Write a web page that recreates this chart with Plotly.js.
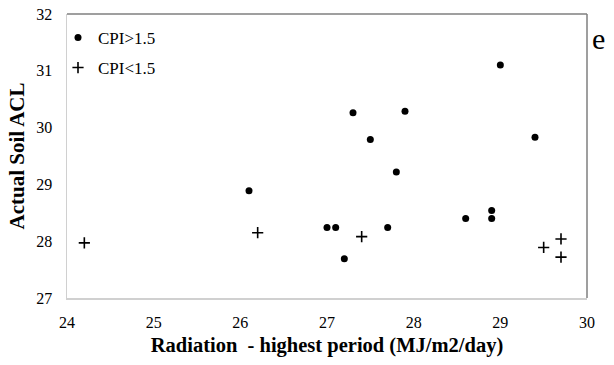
<!DOCTYPE html>
<html>
<head>
<meta charset="utf-8">
<script src="https://cdn.plot.ly/plotly-3.0.1.min.js"></script>
<style>html,body{margin:0;padding:0;background:#fff;}#chart{width:614px;height:365px;}</style>
</head>
<body>
<div id="chart"></div>
<script>
// CPI > 1.5 (filled circles)
const highX = [26.1, 27.0, 27.1, 27.2, 27.3, 27.5, 27.7, 27.8, 27.9, 28.6, 28.9, 28.9, 29.0, 29.4];
const highY = [28.89, 28.24, 28.24, 27.69, 30.26, 29.79, 28.24, 29.22, 30.29, 28.40, 28.54, 28.40, 31.10, 29.83];
// CPI < 1.5 (plus signs)
const lowX = [24.2, 26.2, 27.4, 29.5, 29.7, 29.7];
const lowY = [27.97, 28.15, 28.08, 27.89, 28.04, 27.72];

const xTicks = [24, 25, 26, 27, 28, 29, 30];
const yTicks = [27, 28, 29, 30, 31, 32];

const FONT = 'Liberation Serif, Times New Roman, serif';

const traces = [
  {
    x: highX, y: highY, mode: 'markers', type: 'scatter', name: 'CPI>1.5',
    marker: {symbol: 'circle', size: 7, color: '#000'},
    legend: 'legend'
  },
  {
    x: lowX, y: lowY, mode: 'markers', type: 'scatter', name: 'CPI<1.5',
    marker: {symbol: 'cross-thin', size: 8, color: '#000', line: {width: 1.6, color: '#000'}},
    legend: 'legend2'
  }
];

const legendCommon = {
  xref: 'paper', yref: 'paper', xanchor: 'left', yanchor: 'middle',
  bgcolor: 'rgba(0,0,0,0)', borderwidth: 0, itemwidth: 30,
  font: {family: FONT, size: 17, color: '#000'}
};

const layout = {
  width: 614, height: 365,
  margin: {l: 67, r: 27, t: 14, b: 67, autoexpand: false},
  paper_bgcolor: '#fff', plot_bgcolor: '#fff',
  font: {family: FONT, size: 16, color: '#000'},
  showlegend: true,
  legend: Object.assign({}, legendCommon, {x: -9 / 520, y: (298 - 38) / 284}),
  legend2: Object.assign({}, legendCommon, {x: -9 / 520, y: (298 - 68) / 284}),
  xaxis: {
    range: [24, 30], tickvals: xTicks, ticktext: xTicks.map(String),
    showgrid: false, zeroline: false, ticks: '', ticklabelstandoff: 9,
    showline: true, linecolor: '#d0d0d0', linewidth: 1.5,
    tickfont: {family: FONT, size: 16, color: '#000'},
    title: {text: '<b>Radiation  - highest period (MJ/m2/day)</b>', font: {family: FONT, size: 20.5, color: '#000'}, standoff: 8}
  },
  yaxis: {
    range: [27, 32], tickvals: yTicks, ticktext: yTicks.map(String),
    showgrid: false, zeroline: false, ticks: '', ticklabelstandoff: 10,
    showline: true, linecolor: '#d0d0d0', linewidth: 1.5,
    tickfont: {family: FONT, size: 16, color: '#000'},
    title: {text: '<b>Actual Soil ACL</b>', font: {family: FONT, size: 21, color: '#000'}, standoff: 6}
  },
  shapes: [
    {type: 'line', xref: 'paper', yref: 'paper', x0: 0, x1: 1, y0: 1, y1: 1, line: {color: '#7f7f7f', width: 1.5}},
    {type: 'line', xref: 'paper', yref: 'paper', x0: 1, x1: 1, y0: 0, y1: 1, line: {color: '#7f7f7f', width: 1.5}}
  ],
  annotations: [
    {text: 'e', xref: 'paper', yref: 'paper', x: 1.006, y: (298 - 38) / 284, xanchor: 'left', yanchor: 'middle',
     showarrow: false, font: {family: FONT, size: 30, color: '#000'}}
  ]
};

Plotly.newPlot('chart', traces, layout, {displayModeBar: false, staticPlot: true});
</script>
</body>
</html>
